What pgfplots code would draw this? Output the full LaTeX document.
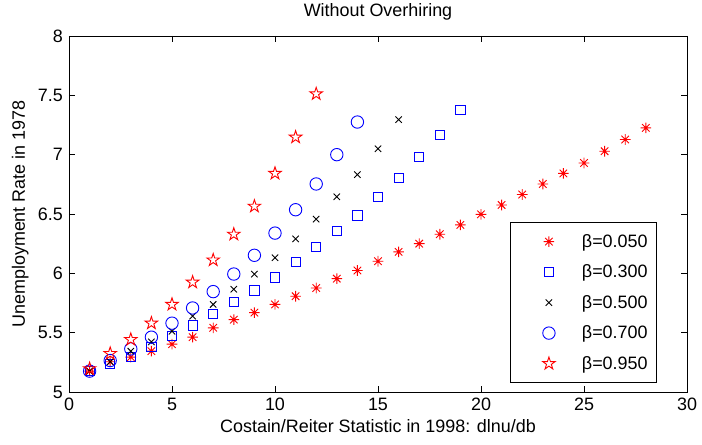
\documentclass[border=0pt]{standalone}
\usepackage{fontspec}
\setmainfont{Liberation Sans}
\usepackage{pgfplots}
\pgfplotsset{compat=1.18}

% MATLAB-style markers: 8-armed asterisk and open pentagram
\pgfdeclareplotmark{mast}{%
  \pgfpathmoveto{\pgfpoint{-\pgfplotmarksize}{0pt}}\pgfpathlineto{\pgfpoint{\pgfplotmarksize}{0pt}}%
  \pgfpathmoveto{\pgfpoint{0pt}{-\pgfplotmarksize}}\pgfpathlineto{\pgfpoint{0pt}{\pgfplotmarksize}}%
  \pgfpathmoveto{\pgfpoint{-0.707\pgfplotmarksize}{-0.707\pgfplotmarksize}}\pgfpathlineto{\pgfpoint{0.707\pgfplotmarksize}{0.707\pgfplotmarksize}}%
  \pgfpathmoveto{\pgfpoint{-0.707\pgfplotmarksize}{0.707\pgfplotmarksize}}\pgfpathlineto{\pgfpoint{0.707\pgfplotmarksize}{-0.707\pgfplotmarksize}}%
  \pgfusepathqstroke}
\pgfdeclareplotmark{pent}{%
  \pgfpathmoveto{\pgfpointpolar{90}{\pgfplotmarksize}}%
  \pgfpathlineto{\pgfpointpolar{126}{0.382\pgfplotmarksize}}%
  \pgfpathlineto{\pgfpointpolar{162}{\pgfplotmarksize}}%
  \pgfpathlineto{\pgfpointpolar{198}{0.382\pgfplotmarksize}}%
  \pgfpathlineto{\pgfpointpolar{234}{\pgfplotmarksize}}%
  \pgfpathlineto{\pgfpointpolar{270}{0.382\pgfplotmarksize}}%
  \pgfpathlineto{\pgfpointpolar{306}{\pgfplotmarksize}}%
  \pgfpathlineto{\pgfpointpolar{342}{0.382\pgfplotmarksize}}%
  \pgfpathlineto{\pgfpointpolar{18}{\pgfplotmarksize}}%
  \pgfpathlineto{\pgfpointpolar{54}{0.382\pgfplotmarksize}}%
  \pgfpathclose\pgfusepathqstroke}

\pgfplotsset{
  legimg/.style={legend image code/.code={%
    \path[##1, draw=none, fill=none] (0bp,0bp) -- (63bp,0bp);
    \draw[##1] plot coordinates {(31.5bp,0bp)};}},
}
\newcommand{\ff}{\fontsize{18}{21}\selectfont}

\begin{document}
\ff
\begin{tikzpicture}
\begin{axis}[
    scale only axis,
    width=618bp,
    height=356bp,
    xmin=0, xmax=30,
    ymin=5, ymax=8,
    xtick={0,5,...,30},
    ytick={5,5.5,...,8},
    tick align=inside,
    major tick length=6bp,
    axis line style={line width=0.8bp},
    every tick/.style={black,line width=0.8bp},
    /pgf/number format/assume math mode=true,
    tick label style={font=\ff},
    xticklabel style={anchor=base, yshift=-18bp},
    yticklabel style={anchor=east},
    title={Without Overhiring},
    every axis title/.style={font=\ff, at={([yshift=19bp]axis description cs:0.5,1)}, anchor=base, inner sep=0pt},
    xlabel={Costain/Reiter Statistic in 1998: dlnu/db},
    every axis x label/.style={font=\ff, at={([yshift=-40.7bp]axis description cs:0.5,0)}, anchor=base, inner sep=0pt},
    ylabel={Unemployment Rate in 1978},
    every axis y label/.style={font=\ff, at={([xshift=-44bp]axis description cs:0,0.5)}, rotate=90, anchor=base, inner sep=0pt},
    legend cell align=left,
    legend style={at={(1,0)}, anchor=south east, xshift=-30bp, yshift=9bp,
        draw=black, line width=0.8bp, inner xsep=7.5bp, inner ysep=8.5bp,
        row sep=9.5bp, font=\ff,
        nodes={inner xsep=1.5bp, inner ysep=2bp, text height=14bp, text depth=3bp}},
    every axis plot/.append style={line width=0.9bp},
]
\addplot[only marks, legimg, mark=mast, mark size=5.3bp, color=red] coordinates {
(1,5.176) (2,5.255) (3,5.294) (4,5.344) (5,5.403) (6,5.462) (7,5.541) (8,5.610) (9,5.669) (10,5.738)
(11,5.807) (12,5.876) (13,5.955) (14,6.024) (15,6.102) (16,6.181) (17,6.250) (18,6.329) (19,6.408) (20,6.497)
(21,6.576) (22,6.664) (23,6.753) (24,6.842) (25,6.930) (26,7.029) (27,7.128) (28,7.226)
};
\addlegendentry{β=0.050}
\addplot[only marks, legimg, mark=square, mark size=4.6bp, color=blue] coordinates {
(1,5.176) (2,5.235) (3,5.294) (4,5.383) (5,5.472) (6,5.560) (7,5.659) (8,5.758) (9,5.856) (10,5.965)
(11,6.093) (12,6.221) (13,6.359) (14,6.487) (15,6.645) (16,6.802) (17,6.980) (18,7.167) (19,7.374)
};
\addlegendentry{β=0.300}
\addplot[only marks, legimg, mark=x, mark size=4.5bp, color=black] coordinates {
(1,5.176) (2,5.255) (3,5.344) (4,5.422) (5,5.511) (6,5.639) (7,5.738) (8,5.866) (9,5.994) (10,6.132)
(11,6.290) (12,6.457) (13,6.645) (14,6.832) (15,7.049) (16,7.295)
};
\addlegendentry{β=0.500}
\addplot[only marks, legimg, mark=o, mark size=6.2bp, color=blue] coordinates {
(1,5.176) (2,5.265) (3,5.363) (4,5.462) (5,5.580) (6,5.708) (7,5.846) (8,5.994) (9,6.152) (10,6.339)
(11,6.536) (12,6.753) (13,7.000) (14,7.275)
};
\addlegendentry{β=0.700}
\addplot[only marks, legimg, mark=pent, mark size=6.6bp, color=red] coordinates {
(1,5.196) (2,5.324) (3,5.442) (4,5.580) (5,5.738) (6,5.925) (7,6.112) (8,6.329) (9,6.565) (10,6.842)
(11,7.147) (12,7.512)
};
\addlegendentry{β=0.950}
\end{axis}
\pgfresetboundingbox
\useasboundingbox (-69bp,-53bp) rectangle (633bp,392bp);
\end{tikzpicture}
\end{document}
